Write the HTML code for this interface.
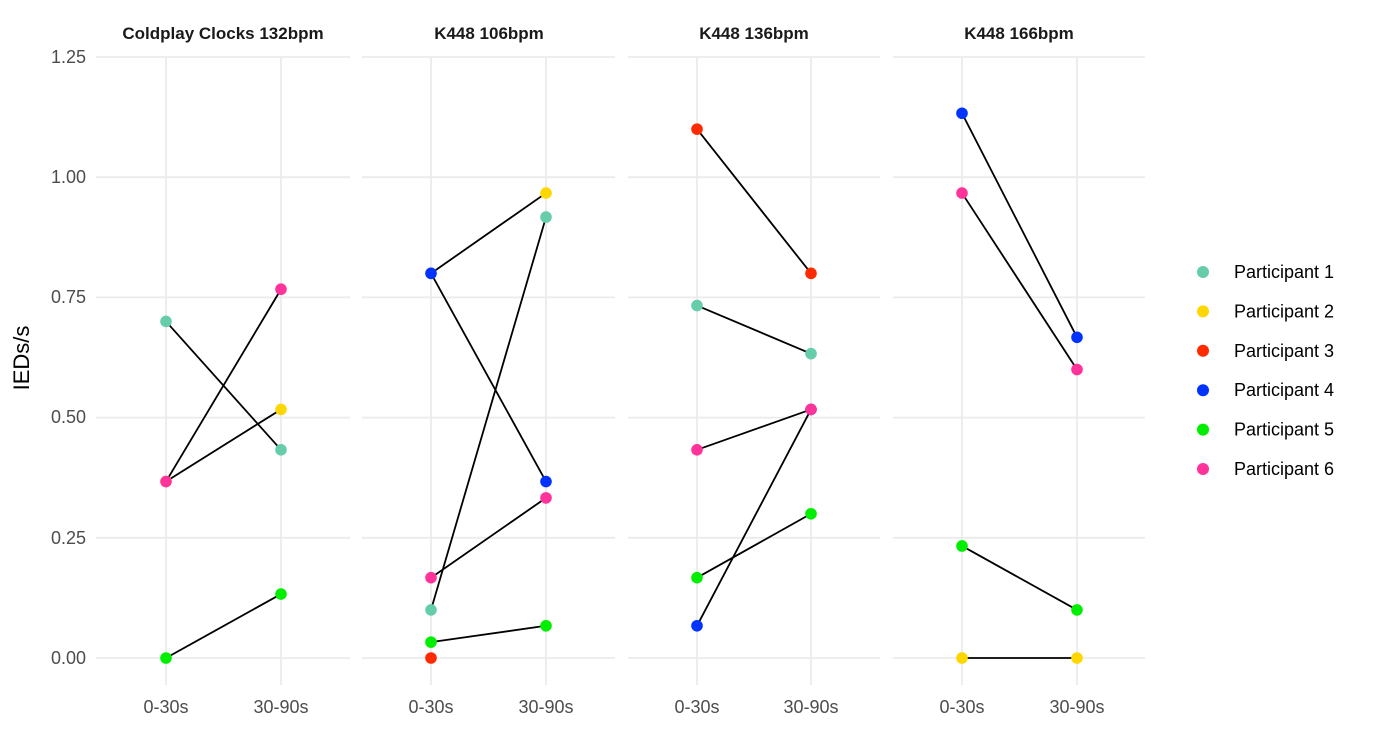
<!DOCTYPE html>
<html><head><meta charset="utf-8"><style>body{margin:0;background:#fff}svg{display:block}</style></head><body>
<svg width="1380" height="731" xmlns="http://www.w3.org/2000/svg" font-family="Liberation Sans, sans-serif">
<g id="grid" stroke="#ebebeb" stroke-width="1.8" fill="none"></g>
<g id="lines" stroke="#000" stroke-width="1.8"></g>
<g id="pts"></g>
<g fill="#4d4d4d" font-size="18" text-anchor="end">
<text x="86" y="664">0.00</text><text x="86" y="544">0.25</text><text x="86" y="423">0.50</text><text x="86" y="303">0.75</text><text x="86" y="183">1.00</text><text x="86" y="63">1.25</text>
</g>
<text transform="translate(29,358) rotate(-90)" font-size="22" text-anchor="middle" fill="#000">IEDs/s</text>
<g font-size="17" font-weight="bold" text-anchor="middle" fill="#1a1a1a">
<text x="223" y="39">Coldplay Clocks 132bpm</text><text x="489" y="39">K448 106bpm</text><text x="754" y="39">K448 136bpm</text><text x="1019" y="39">K448 166bpm</text>
</g>
<g id="xl" font-size="18" fill="#4d4d4d" text-anchor="middle"></g>
<g id="leg" font-size="18" fill="#000"></g>
<script>
var ns="http://www.w3.org/2000/svg";
function el(p,t,a,txt){var e=document.createElementNS(ns,t);for(var k in a)e.setAttribute(k,a[k]);if(txt)e.textContent=txt;document.getElementById(p).appendChild(e);}
var panels=[[96,350,166,281],[362,615,431,546],[628,880,697,811],[893,1145,962,1077]];
function Y(v){return 658-v*480.8;}
panels.forEach(function(p){
 for(var i=0;i<=5;i++)el("grid","line",{x1:p[0],x2:p[1],y1:Y(i*0.25),y2:Y(i*0.25)});
 el("grid","line",{x1:p[2],x2:p[2],y1:57,y2:685});el("grid","line",{x1:p[3],x2:p[3],y1:57,y2:685});
 el("xl","text",{x:p[2],y:713},"0-30s");el("xl","text",{x:p[3],y:713},"30-90s");
});
var C=["#66CDAA","#FFD700","#FF2A00","#0033FF","#00EE00","#FF3399"];
var D=[
 [[1,0.367,0.517],[4,0,0.133],[0,0.7,0.433],[5,0.367,0.767]],
 [[1,0.8,0.967],[3,0.8,0.367],[0,0.1,0.917],[5,0.167,0.333],[4,0.033,0.067],[2,0,null]],
 [[3,0.067,0.517],[2,1.1,0.8],[0,0.733,0.633],[5,0.433,0.517],[4,0.167,0.3]],
 [[3,1.133,0.667],[5,0.967,0.6],[4,0.233,0.1],[1,0,0]]
];
D.forEach(function(d,i){var p=panels[i];
 d.forEach(function(s){if(s[2]!==null)el("lines","line",{x1:p[2],y1:Y(s[1]),x2:p[3],y2:Y(s[2])});});
 d.forEach(function(s){el("pts","circle",{cx:p[2],cy:Y(s[1]),r:5.8,fill:C[s[0]]});if(s[2]!==null)el("pts","circle",{cx:p[3],cy:Y(s[2]),r:5.8,fill:C[s[0]]});});
});
for(var i=0;i<6;i++){var y=272+i*39.4;el("leg","circle",{cx:1203,cy:y,r:6,fill:C[i]});el("leg","text",{x:1234,y:y+6},"Participant "+(i+1));}
</script>
</svg>
</body></html>
